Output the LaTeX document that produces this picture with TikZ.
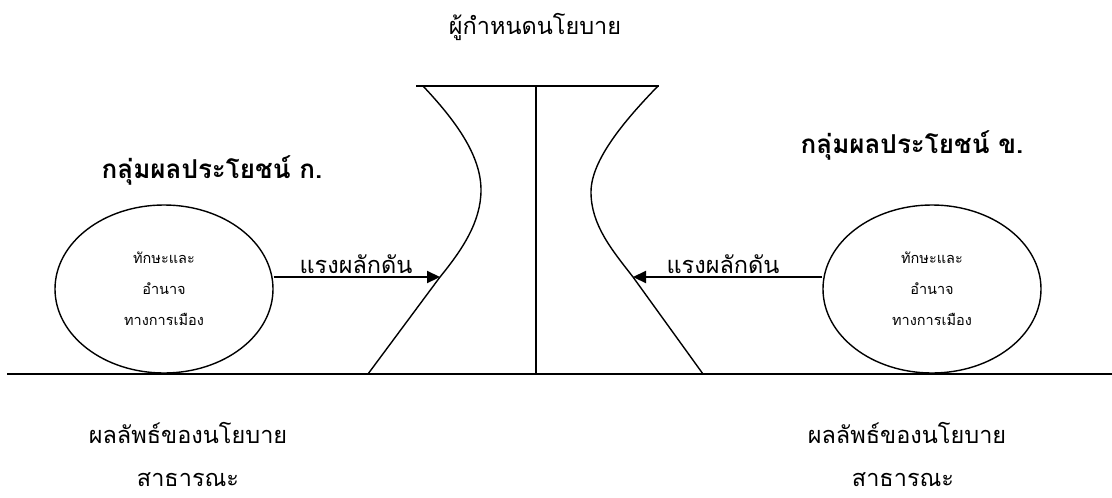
\documentclass[tikz,border=0pt]{standalone}
\usepackage{fontspec}
\setmainfont[Script=Thai]{Loma}
\usetikzlibrary{arrows.meta,shapes.geometric}
\begin{document}
\begin{tikzpicture}[x=1pt,y=-1pt,
  txt/.style={inner sep=0pt,font=\fontsize{23.5}{28}\selectfont},
  head/.style={inner sep=0pt,font=\fontsize{26}{30}\selectfont\bfseries},
  small/.style={font=\fontsize{14.5}{31}\selectfont},
  bubble/.style={draw,line width=1.4pt,ellipse,minimum width=218pt,minimum height=168pt,inner sep=0pt,align=center,small},
  thin/.style={line width=1.4pt},
  thick/.style={line width=2pt},
  push/.style={line width=2.2pt,-{Triangle[length=13pt,width=12pt]}}]
\useasboundingbox (0,0) rectangle (1112,498);
% base and frame
\coordinate (bl) at (7,374);
\coordinate (br) at (1112,374);
\coordinate (tl) at (416,86);
\coordinate (tr) at (659,86);
\coordinate (ct) at (536,86);
\coordinate (cb) at (536,374);
\draw[thick] (bl) -- (br);
\draw[thin] (tl) -- (tr);
\draw[thin] (ct) -- (cb);
% curves
\coordinate (tipL) at (440,277);
\coordinate (tipR) at (633,277);
\draw[thin] (423,86) .. controls (455,120) and (481,155) .. (481,190)
  .. controls (481,222) and (462,250) .. (tipL) -- (368,374);
\draw[thin] (658,86) .. controls (625,120) and (591,160) .. (591,192)
  .. controls (591,225) and (612,250) .. (tipR) -- (703,374);
% ellipses
\node[bubble] (eL) at (164,289) {ทักษะและ\\อำนาจ\\ทางการเมือง};
\node[bubble] (eR) at (932,289) {ทักษะและ\\อำนาจ\\ทางการเมือง};
\draw[push] (eL.east |- tipL) -- (tipL);
\draw[push] (eR.west |- tipR) -- (tipR);
\node[txt,anchor=base] (pL) at (356,273) {แรงผลักดัน};
\node[txt,anchor=base] (pR) at (723,273) {แรงผลักดัน};
% texts
\node[txt] (title) at (535,27) {ผู้กำหนดนโยบาย};
\node[head] (hL) at (212,170) {กลุ่มผลประโยชน์ ก.};
\node[head] (hR) at (912,145) {กลุ่มผลประโยชน์ ข.};
\node[txt] (oL1) at (188,433) {ผลลัพธ์ของนโยบาย};
\node[txt,anchor=base] (oL2) at (188,486) {สาธารณะ};
\node[txt] (oR1) at (907,433) {ผลลัพธ์ของนโยบาย};
\node[txt,anchor=base] (oR2) at (903,486) {สาธารณะ};
\end{tikzpicture}
\end{document}
